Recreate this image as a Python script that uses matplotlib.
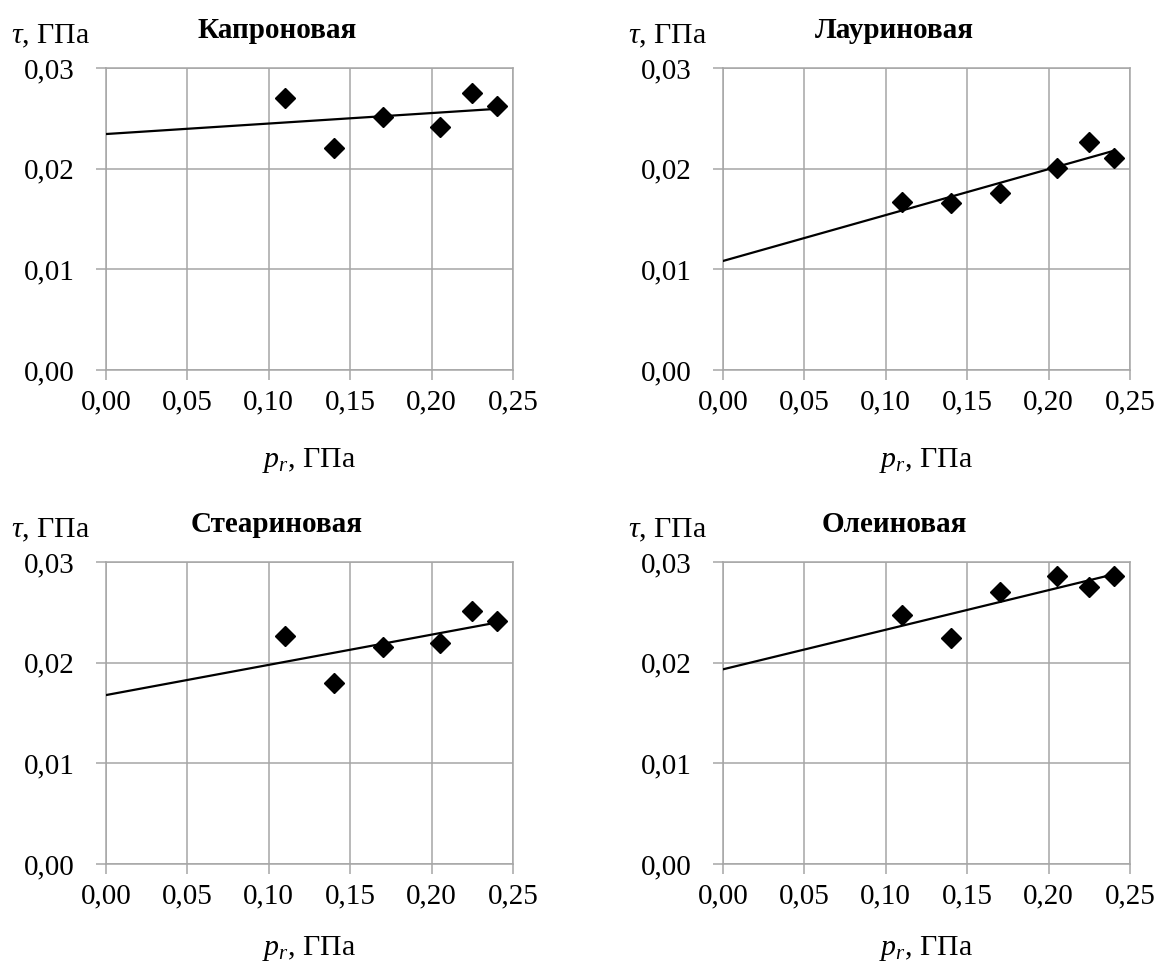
import matplotlib
matplotlib.use("Agg")
import matplotlib.pyplot as plt
import numpy as np
from matplotlib.ticker import FuncFormatter

plt.rcParams['font.family'] = ['Liberation Serif', 'DejaVu Serif']
plt.rcParams['mathtext.fontset'] = 'custom'
plt.rcParams['mathtext.rm'] = 'Liberation Serif'
plt.rcParams['mathtext.it'] = 'Liberation Serif:italic'

# data
p_r = [0.11, 0.14, 0.17, 0.205, 0.225, 0.24]
titles = ['Капроновая', 'Лауриновая', 'Стеариновая', 'Олеиновая']
tau_kapron = [0.0270, 0.0221, 0.0251, 0.0241, 0.0275, 0.0262]
tau_laurin = [0.0167, 0.0166, 0.0176, 0.0201, 0.0226, 0.0211]
tau_stearin = [0.0226, 0.0180, 0.0216, 0.0220, 0.0251, 0.0241]
tau_olein = [0.0247, 0.0225, 0.0270, 0.0286, 0.0275, 0.0286]
series = [tau_kapron, tau_laurin, tau_stearin, tau_olein]

xticks = [0.0, 0.05, 0.10, 0.15, 0.20, 0.25]
yticks = [0.0, 0.01, 0.02, 0.03]

W, H = 1159, 961
fig = plt.figure(figsize=(W / 100, H / 100), dpi=100)

# axes boxes in pixels: left, top, distance to x label baseline
boxes = [(106, 68, 97), (723, 68, 97), (106, 562, 91), (723, 562, 91)]
aw, ah = 407, 302

comma = FuncFormatter(lambda v, pos: ('%.2f' % v).replace('.', ','))
grey = '#a6a6a6'

for (l, t, xl), title, tau in zip(boxes, titles, series):
    ax = fig.add_axes([l / W, 1 - (t + ah) / H, aw / W, ah / H])
    ax.set_xlim(0, 0.25)
    ax.set_ylim(0, 0.03)
    ax.set_xticks(xticks)
    ax.set_yticks(yticks)
    ax.xaxis.set_major_formatter(comma)
    ax.yaxis.set_major_formatter(comma)
    ax.grid(True, color=grey, lw=1.1)
    ax.set_axisbelow(True)
    for s in ax.spines.values():
        s.set_color(grey)
        s.set_linewidth(1.1)
    ax.tick_params(axis='both', direction='out', length=7.5, width=1.1,
                   color=grey, labelsize=21)
    ax.tick_params(axis='y', pad=15)
    ax.tick_params(axis='x', pad=6.5)

    # linear trendline
    k, b = np.polyfit(p_r, tau, 1)
    xs = np.array([0.0, max(p_r)])
    ax.plot(xs, k * xs + b, color='black', lw=1.6, zorder=3)
    ax.plot(p_r, tau, 'D', color='black', ms=10, zorder=4)

    ax.text(0.42, 1 + 30 / ah, title, transform=ax.transAxes, ha='center',
            va='baseline', fontsize=21, fontweight='bold')
    ax.text(-16 / aw, 1 + 25 / ah, r'$\tau$, ГПа', transform=ax.transAxes,
            ha='right', va='baseline', fontsize=21.5)
    ax.text(0.5, -xl / ah, r'$p_r$, ГПа', transform=ax.transAxes,
            ha='center', va='baseline', fontsize=21.5)

fig.savefig('out.png', dpi=100)
